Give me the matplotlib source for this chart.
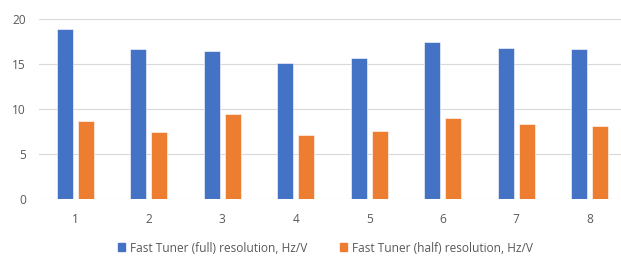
import matplotlib
matplotlib.use("Agg")
import matplotlib.pyplot as plt
import numpy as np
from matplotlib.patches import Patch

categories = ["1", "2", "3", "4", "5", "6", "7", "8"]
full_res = [18.9, 16.65, 16.45, 15.1, 15.65, 17.45, 16.85, 16.7]
half_res = [8.75, 7.5, 9.5, 7.2, 7.55, 9.0, 8.35, 8.1]
series_names = ["Fast Tuner (full) resolution, Hz/V", "Fast Tuner (half) resolution, Hz/V"]
y_ticks = [0, 5, 10, 15, 20]

BLUE = "#4472C4"
ORANGE = "#ED7D31"
TXT = "#595959"
FONT = ["Open Sans", "DejaVu Sans"]
plt.rcParams["font.family"] = FONT
FS = 8.6

fig = plt.figure(figsize=(6.21, 2.56), dpi=100)
ax = fig.add_axes([38.5/621, 56.7/256, (621-38.5)/621, (199.3-19.3)/256])

x = np.arange(1, len(categories) + 1)
w = 0.22
ax.bar(x - 0.145, full_res, w, color=BLUE, edgecolor="white", linewidth=0.4, zorder=3)
ax.bar(x + 0.145, half_res, w, color=ORANGE, edgecolor="white", linewidth=0.4, zorder=3)

ax.set_xlim(0.5, 0.5 + (621 - 38.5) / 73.5)
ax.set_ylim(0, 20)
ax.set_yticks(y_ticks)
ax.set_xticks(x)
ax.set_xticklabels(categories)
ax.tick_params(axis="both", length=0, labelsize=FS, labelcolor=TXT)
ax.tick_params(axis="y", pad=9)
ax.tick_params(axis="x", pad=10)
ax.grid(axis="y", color="#D9D9D9", linewidth=0.8, zorder=0)
for s in ax.spines.values():
    s.set_visible(False)

handles = [Patch(color=BLUE), Patch(color=ORANGE)]
fig.legend(handles, series_names, loc="center", bbox_to_anchor=(325.5/621, 1 - 248/256),
           ncol=2, frameon=False, fontsize=FS, labelcolor=TXT,
           handlelength=0.62, handleheight=0.62, handletextpad=0.4, columnspacing=2.7,
           borderpad=0, borderaxespad=0)

fig.savefig("out.png", dpi=100)
